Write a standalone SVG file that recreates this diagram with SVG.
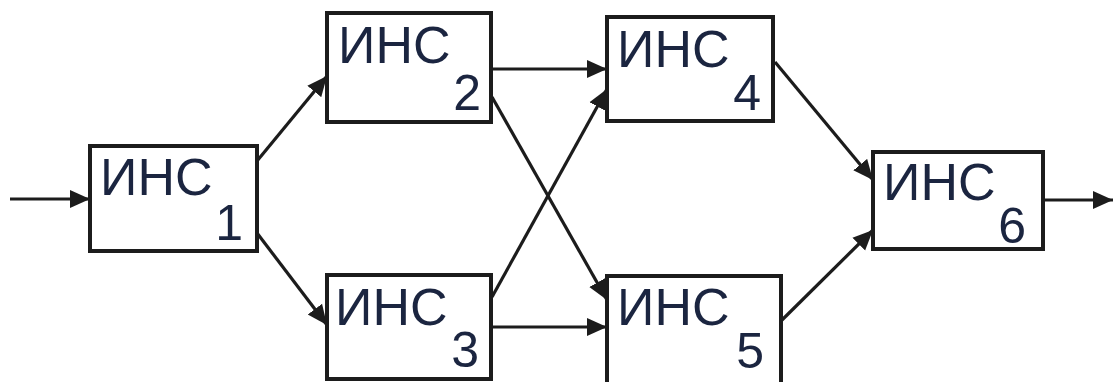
<svg xmlns="http://www.w3.org/2000/svg" width="1113" height="382" viewBox="0 0 1113 382">
<style>
.box{fill:#fff;stroke:#1c1c1c;stroke-width:4}
.lbl{font-family:"Liberation Sans",Arial,sans-serif;font-size:52px;fill:#1b2540}
.sub{font-family:"Liberation Sans",Arial,sans-serif;font-size:50px;fill:#1b2540;text-anchor:end}
.c{stroke:#1c1c1c;stroke-width:3.2;fill:none;marker-end:url(#ah)}
</style>
<defs>
<marker id="ah" markerUnits="userSpaceOnUse" markerWidth="22" markerHeight="20" refX="20" refY="10" orient="auto">
<path d="M0,1 L20,10 L0,19 Z" fill="#1c1c1c"/>
</marker>
</defs>
<rect width="1113" height="382" fill="#fff"/>
<g id="connectors">
<line class="c" x1="10" y1="199" x2="90" y2="199"/>
<line class="c" x1="257" y1="161" x2="327" y2="76"/>
<line class="c" x1="257" y1="233" x2="327" y2="325"/>
<line class="c" x1="491" y1="69" x2="607" y2="69"/>
<line class="c" x1="492" y1="97" x2="607" y2="300"/>
<line class="c" x1="492" y1="297" x2="607" y2="89"/>
<line class="c" x1="491" y1="327" x2="607" y2="327"/>
<line class="c" x1="775" y1="62" x2="873" y2="180"/>
<line class="c" x1="782" y1="320" x2="873" y2="230"/>
<line class="c" x1="1043" y1="200" x2="1113" y2="200"/>
</g>
<g id="n1"><rect class="box" x="90" y="146" width="167" height="105"/><text class="lbl" x="100" y="195">ИНС</text><text class="sub" x="243" y="240">1</text></g>
<g id="n2"><rect class="box" x="327" y="13" width="164" height="109"/><text class="lbl" x="338" y="63">ИНС</text><text class="sub" x="481" y="110">2</text></g>
<g id="n3"><rect class="box" x="327" y="275" width="164" height="104"/><text class="lbl" x="335" y="325">ИНС</text><text class="sub" x="479" y="367">3</text></g>
<g id="n4"><rect class="box" x="607" y="17" width="166" height="104"/><text class="lbl" x="617" y="67">ИНС</text><text class="sub" x="761" y="110">4</text></g>
<g id="n5"><rect class="box" x="607" y="276" width="174" height="110"/><text class="lbl" x="617" y="325">ИНС</text><text class="sub" x="764" y="368">5</text></g>
<g id="n6"><rect class="box" x="873" y="152" width="170" height="97"/><text class="lbl" x="883" y="200">ИНС</text><text class="sub" x="1026" y="243">6</text></g>
</svg>
